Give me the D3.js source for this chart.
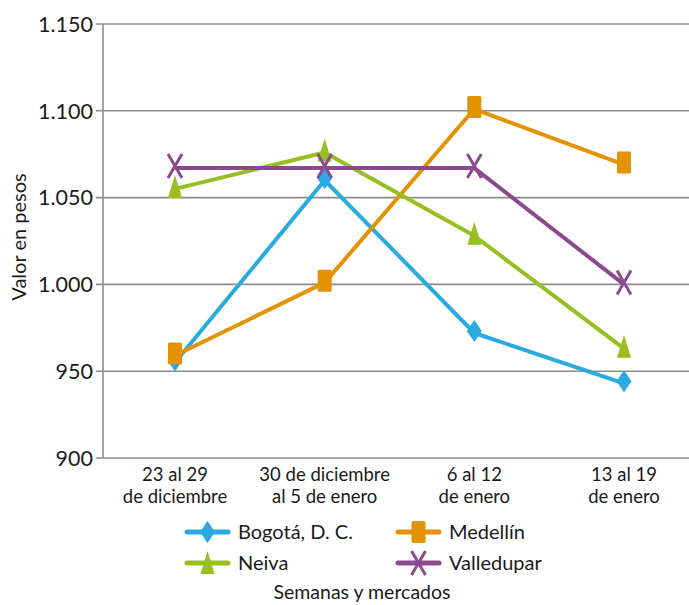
<!DOCTYPE html>
<html><head><meta charset="utf-8">
<script src="https://cdn.jsdelivr.net/npm/d3@7"></script>
<style>body{margin:0;background:#fff}svg{display:block}text{font-family:Lato,"DejaVu Sans",sans-serif;fill:#1a1a1a}</style>
</head><body>
<svg id="c" width="689" height="605"></svg>
<script>
const categories = [["23 al 29","de diciembre"],["30 de diciembre","al 5 de enero"],["6 al 12","de enero"],["13 al 19","de enero"]];
const seriesNames = ["Bogotá, D. C.","Medellín","Neiva","Valledupar"];
const bogota = [955, 1060, 972, 943];
const medellin = [959, 1001, 1101, 1069];
const neiva = [1055, 1076, 1028, 963];
const valledupar = [1067, 1067, 1067, 1000];
const yTicks = [900, 950, 1000, 1050, 1100, 1150];
const yTickLabels = ["900","950","1.000","1.050","1.100","1.150"];
const colors = ["#29abe2","#e39200","#97bf1f","#8b4a8f"];
const markers = ["diamond","square","triangle","cross"];
const allSeries = [bogota, medellin, neiva, valledupar];

const svg = d3.select("#c");
const x = d3.scalePoint().domain(d3.range(categories.length)).range([175, 624]);
const y = d3.scaleLinear().domain([900, 1150]).range([458, 24]);

// grid
svg.append("g").selectAll("line").data(yTicks).join("line")
  .attr("x1", 96).attr("x2", 689).attr("y1", d => y(d)).attr("y2", d => y(d))
  .attr("stroke", "#8c8c8c").attr("stroke-width", 1.6);
svg.append("line").attr("x1", 103).attr("x2", 103).attr("y1", y(1150)).attr("y2", y(900))
  .attr("stroke", "#8c8c8c").attr("stroke-width", 1.6);

// y labels
svg.append("g").selectAll("text").data(yTicks).join("text")
  .attr("x", 93).attr("y", d => y(d)).attr("dy", "0.36em").attr("text-anchor", "end")
  .attr("font-size", 21.5).text((d, i) => yTickLabels[i]);

// x labels (two separate text lines per category)
categories.forEach((d, i) => {
  d.forEach((lineTxt, j) => {
    svg.append("text").attr("x", x(i)).attr("y", 481 + j * 22)
      .attr("text-anchor", "middle").attr("font-size", 18.5).text(lineTxt);
  });
});

svg.append("text").attr("transform", "translate(26,237) rotate(-90)").attr("text-anchor", "middle")
  .attr("font-size", 20).text("Valor en pesos");
svg.append("text").attr("x", 362).attr("y", 599).attr("text-anchor", "middle")
  .attr("font-size", 19.5).text("Semanas y mercados");

function drawMarker(g, type, color) {
  if (type === "diamond") g.append("path").attr("d", "M0,-11L7.5,0L0,11L-7.5,0Z").attr("fill", color);
  else if (type === "square") g.append("rect").attr("x", -7).attr("y", -11).attr("width", 14).attr("height", 22).attr("rx", 1.5).attr("fill", color);
  else if (type === "triangle") g.append("path").attr("d", "M0,-12L7,11L-7,11Z").attr("fill", color);
  else g.append("path").attr("d", "M-7,-12L7,12M7,-12L-7,12").attr("stroke", color).attr("stroke-width", 3).attr("fill", "none");
}

const line = d3.line().x((d, i) => x(i)).y(d => y(d));
allSeries.forEach((s, k) => {
  const g = svg.append("g");
  g.append("path").datum(s).attr("d", line).attr("fill", "none").attr("stroke", colors[k])
    .attr("stroke-width", 4).attr("stroke-linejoin", "round");
  s.forEach((v, i) => {
    const m = g.append("g").attr("transform", `translate(${x(i)},${y(v) - 2})`);
    drawMarker(m, markers[k], colors[k]);
  });
});

// legend
const legendPos = [[187, 532], [398, 532], [187, 563], [398, 563]];
seriesNames.forEach((n, k) => {
  const [lx, ly] = legendPos[k];
  const g = svg.append("g");
  g.append("line").attr("x1", lx).attr("x2", lx + 41).attr("y1", ly).attr("y2", ly)
    .attr("stroke", colors[k]).attr("stroke-width", 5).attr("stroke-linecap", "round");
  const m = g.append("g").attr("transform", `translate(${lx + 20.5},${ly})`);
  drawMarker(m, markers[k], colors[k]);
  g.append("text").attr("x", lx + 51).attr("y", ly).attr("dy", "0.36em").attr("font-size", 20).text(n);
});
</script>
</body></html>
